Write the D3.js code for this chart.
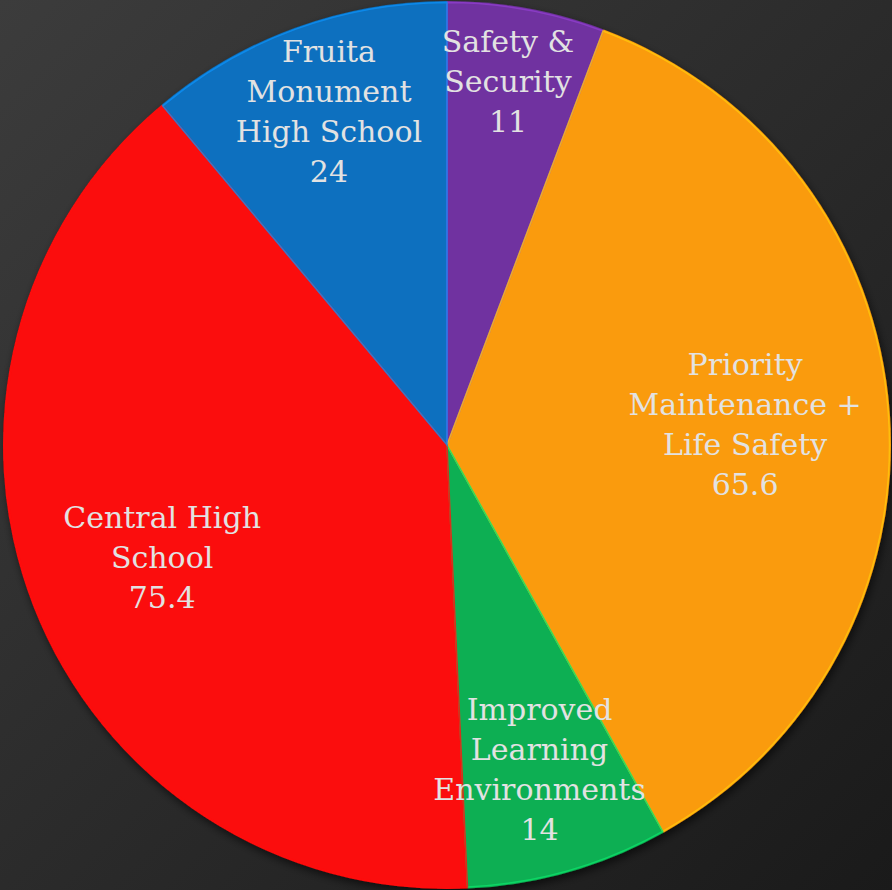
<!DOCTYPE html>
<html><head><meta charset="utf-8">
<script src="https://cdn.jsdelivr.net/npm/d3@7"></script>
<style>html,body{margin:0;padding:0;background:#2a2a2a;overflow:hidden}</style>
</head><body>
<svg id="chart" width="892" height="890"></svg>
<script>
const categories = ["Safety &\nSecurity", "Priority\nMaintenance +\nLife Safety", "Improved\nLearning\nEnvironments", "Central High\nSchool", "Fruita\nMonument\nHigh School"];
// slice sizes as drawn in the picture
const values = [10.9, 68.7, 14, 75.3, 21.1];
// values printed in the labels
const labelValues = ["11", "65.6", "14", "75.4", "24"];
const colors = ["#7030a0", "#fa9b0a", "#0aaf52", "#fb0a0a", "#0a70bf"];
// label placement: angle offset (degrees) from slice middle, radius fraction
const labelAngleOffset = [-0.8, 0.3, 0, -0.25, 0.5];
const labelRadiusFrac = [0.83, 0.673, 0.76, 0.69, 0.797];

const W = 892, H = 890;
const svg = d3.select("#chart");
const defs = svg.append("defs");
const bg = defs.append("linearGradient").attr("id","bg").attr("x1","0").attr("y1","0").attr("x2","1").attr("y2","1");
bg.append("stop").attr("offset","0%").attr("stop-color","#3c3c3c");
bg.append("stop").attr("offset","100%").attr("stop-color","#1a1a1a");
const sh = defs.append("filter").attr("id","shadow").attr("x","-10%").attr("y","-10%").attr("width","120%").attr("height","120%");
sh.append("feDropShadow").attr("dx",2).attr("dy",4).attr("stdDeviation",4).attr("flood-color","#000").attr("flood-opacity",0.6);

svg.append("rect").attr("width",W).attr("height",H).attr("fill","url(#bg)");

const cx = 447, cy = 445, R = 444;
const g = svg.append("g").attr("transform",`translate(${cx},${cy})`);
const pie = d3.pie().sort(null).value(d => d);
const arcs = pie(values);
const arc = d3.arc().innerRadius(0).outerRadius(R);

const slices = g.append("g").attr("filter","url(#shadow)");
slices.selectAll("path").data(arcs).join("path")
  .attr("d", arc)
  .attr("fill", (d,i) => colors[i]);
// bevel highlight
g.append("g").selectAll("path").data(arcs).join("path")
  .attr("d", d3.arc().innerRadius(0).outerRadius(R-1.5))
  .attr("fill","none")
  .attr("stroke",(d,i) => d3.color(colors[i]).brighter(0.7))
  .attr("stroke-width",1.5)
  .attr("stroke-opacity",0.8);

const fs = 30, lh = 40;
const labels = g.append("g").attr("font-family","'DejaVu Serif', serif").attr("font-size",fs).attr("fill","#e2e2e2").attr("text-anchor","middle");
arcs.forEach((d,i) => {
  const mid = (d.startAngle + d.endAngle)/2 + labelAngleOffset[i]*Math.PI/180;
  const r = labelRadiusFrac[i]*R;
  const x = r*Math.sin(mid), y = -r*Math.cos(mid);
  const lines = categories[i].split("\n").concat([labelValues[i]]);
  const t = labels.append("text").attr("x",x).attr("y",y);
  const y0 = -(lines.length-1)*lh/2;
  lines.forEach((ln,k) => {
    t.append("tspan").attr("x",x).attr("y",y + y0 + k*lh).attr("dy","0.35em").text(ln);
  });
});
</script>
</body></html>
